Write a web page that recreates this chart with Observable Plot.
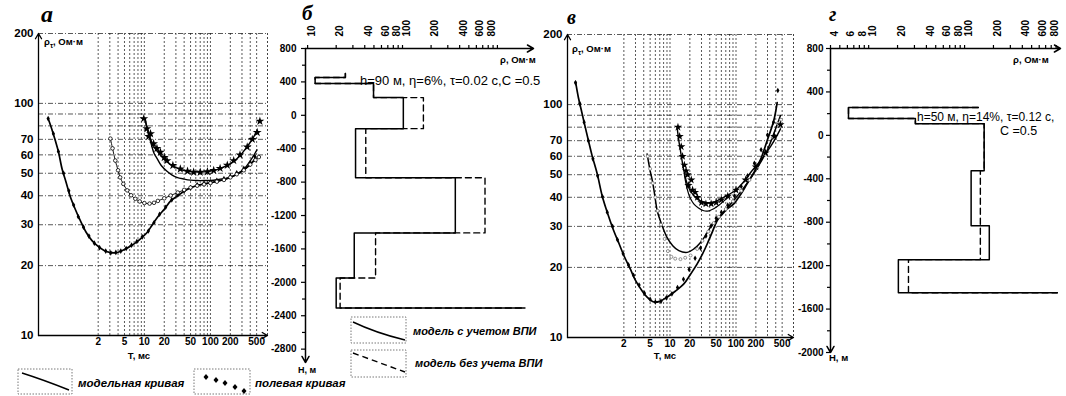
<!DOCTYPE html>
<html><head><meta charset="utf-8">
<script src="https://cdn.jsdelivr.net/npm/d3@7"></script>
<script src="https://cdn.jsdelivr.net/npm/@observablehq/plot@0.6"></script>
<style>
body{margin:0;background:#fff;}
#root{position:relative;width:1066px;height:396px;overflow:hidden;font-family:"Liberation Sans",Arial,sans-serif;color:#000;background:#fff;}
#root svg{position:absolute;top:0;}
</style></head><body><div id="root"></div>
<script>
// ---------------- shared axes for curve panels (а, в) ----------------
const rhoTicks = [10,20,30,40,50,60,70,80,90,100,200];
const rhoGrid = [20,30,40,50,60,70,80,90,100,200];
const tTicks = [2,5,10,20,50,100,200,500];
const tGrid = [2,3,4,5,6,7,8,9,10,20,30,40,50,60,70,80,90,100,200,300,400,500];
const aDomainT = [0.25, 730];
const vDomainT = [0.28, 743];
const rhoDomain = [10, 200];

// ---------------- panel а ----------------
const aT1 = [0.35,0.4,0.45,0.5,0.57,0.65,0.76,0.9,1.07,1.3,1.6,2.0,2.5,3.0,3.6,4.3,5.2,6.2,7.5,9,11,13,16,20,25,32,40,50,63,80,100,125,160,200,250,320,400,480];
const aRho1 = [86,77,69,62,52,46,39.5,35,31.3,28,25.7,24.2,23.2,22.8,22.7,23,23.6,24.3,25.2,26.3,27.8,29.8,32.5,35,38,40,41.8,43.2,44.3,45,45.5,46.2,47,48,49.5,51.8,54.5,58];
const aT1f = [0.35,0.42,0.5,0.6,0.72,0.85,1.0,1.2,1.45,1.75,2.1,2.6,3.1,3.7,4.4,5.3,6.4,7.7,9.3,11.5,14,17,21,26,32,40,50,63,80,100,125,160,200,250,320,400,470];
const aRho1f = [86,74,62,50,42,36.5,32.5,29.3,26.8,25,23.9,23.1,22.7,22.8,23.1,23.7,24.5,25.4,26.6,28.2,30.6,33.3,35.7,38.4,40.3,41.9,43.3,44.6,45.3,45.9,46.6,47.4,48.5,50.2,52.5,55.6,59];
const aT2 = [3.06,3.3,3.63,4.0,4.3,4.8,5.5,6.3,7.3,8.5,10,12,14,16,20,25,32,40,50,63,80,100,125,160,200,250,320,400,480,540];
const aRho2 = [70.5,64,56.7,51.5,48,45,42.2,40.2,38.8,37.8,37.2,37,37.3,38,39,40.1,41.3,42.4,43.4,44.2,44.8,45.4,46,46.8,48,49.5,51.5,54.5,57,58.7];
const aT3f = [9.8,10.9,11.6,12.4,13.8,15.5,17.5,20,22,27,35,45,55.7,70,90,112,140,180,225,280,360,430,510,560];
const aRho3f = [86,77.8,72,74,67,64,61.6,58.5,56.7,54,52.2,51,50.5,50.5,50.8,51.4,52.5,54.2,56.7,60,64.9,70,75,83.8];
const aT3 = [10.3,12,14,17,20,25,32,40,50,63,80,100,130,170,220,280,350,430,500];
const aRho3 = [84,72,65,60.5,57.5,54.5,52.5,51.4,50.8,50.6,50.7,51.1,52,53.6,56,59.5,64.5,70,76];
const aT3b = [10.3,11,12.5,14,15.6,18,22,26,31,40,50,63,80,100,126,160,200,253,320,400,506];
const aRho3b = [86,78,68,61,57.8,54,51,49.2,48,47.2,46.7,46.5,46.5,46.6,46.9,47.4,48,49.5,52,56.5,63];

// ---------------- panel в ----------------
const vT1 = [0.37,0.41,0.46,0.52,0.59,0.66,0.79,0.94,1.1,1.4,1.7,2.0,2.5,3.0,3.7,4.5,5.7,7,9,12,16.2,20,25.8,31,36.6,44,51.9,60,72,92.6,120,147,190,235,296,372,420];
const vRho1 = [125.7,107,93,80,68.8,60.4,50.4,40.5,35,28.8,25.2,22.5,19.7,17.6,16,14.9,14.2,14.3,14.9,15.8,17,18.5,20.7,22.8,25.2,28.5,31.8,33.5,35.5,37.5,41.5,45.7,51.5,58,70,85,102];
const vT1f = [0.37,0.43,0.5,0.58,0.68,0.8,0.95,1.12,1.35,1.6,1.95,2.35,2.8,3.4,4.1,5,6,7.3,8.8,10.7,13,16,19.5,24,29,35,42,50,60,75,95,120,150,190,240,300,370,430];
const vRho1f = [124,101,84,70,58.5,49.5,40.2,34.5,30,26.3,22.9,20.5,18.5,16.8,15.5,14.6,14.2,14.3,14.8,15.4,16.4,17.8,19.6,21.9,24.2,27.3,30.2,32.5,34.5,37,40.5,44.5,49.5,56,64,74,84,115];
const vT2 = [4.5,5.0,5.4,5.9,6.4,7.5,9,11,13.6,18.2,23,29,35,41,55,70,90,120,160,210,296,380,472];
const vRho2 = [61.4,52,47.2,40.5,35,30.5,26.9,24.8,23.6,23.2,24,25.6,27.6,29.7,32.8,35.5,38.5,42.5,47.5,53.5,63.5,76,89.7];
const vT2f = [4.6,5,5.5,6,6.5,7.3,8.3,9.3,10.5,12,14.4,17,20.5,25.8,31,38,46,55,70,90,120,160,210,280,360,430,480];
const vRho2f = [60,53,46,40,35,30.5,26.5,23.5,22.2,21.8,21.7,22,22.5,24,26,28.5,31,33,35.6,38.5,42.7,47.5,53.5,61,72,83,86];
const vT3 = [12.9,13.6,14.4,15.3,16.2,18.2,20,22.9,27,32.5,39,46,55,65,80,100,130,170,230,333,400,472];
const vRho3 = [78.7,70,63.5,57,52.1,45.7,43,40.7,39,38.1,37.9,38.1,39,40,41.3,43,46.5,51.5,57,66,72,78.7];
const vT3b = [16.5,18,20,22.9,27,32.5,39,46,55,65,80];
const vRho3b = [50,44,40,37.5,36,35,35,35.7,37,38.5,40.5];
const vT3f = [13.2,14,14.8,15.5,16.5,17.5,18.5,19,21,22,24,26,30,35,42,50,60,75,100,140,200,280,380,470];
const vRho3f = [80,73,66,60,55,52,50,45,47.5,43,42,40,38,37.5,37.5,38,39,40.5,43,47.5,54,62,73,82];

// ---------------- panel б (geoelectric section) ----------------
const bYMajor = [800,400,0,-400,-800,-1200,-1600,-2000,-2400,-2800];
const bYMinor = [600,200,-200,-600,-1000,-1400,-1800,-2200,-2600];
const bXLabels = [10,20,40,60,80,100,200,400,600,800];
const bXMinor = [30,50,70,90,300,500,700,900,1000];
const bSurfRho = 25, bSurfTop = 500;
const bBounds = [452,380,212,-160,-748,-1408,-1948,-2308];
const bRhoSolid = [12,49.5,102,32,360,31,20,1950];
const bRhoDashed = [12,49.5,166,41,740,52,22,1950];
const bDomainX = [9.5, 2400], bDomainY = [-2960, 800];

// ---------------- panel г ----------------
const gYMajor = [800,400,0,-400,-800,-1200,-1600,-2000];
const gYMinor = [600,200,-200,-600,-1000,-1400,-1800];
const gXLabels = [4,6,8,10,20,40,60,80,100,200,400,600,800];
const gXMinor = [5,7,9,30,50,70,90,300,500,700,900];
const gSurfRho = 139, gSurfTop = 256;
const gBounds = [256,155,108,-325,-832,-1145,-1450];
const gRhoSolid = [6.16,30.7,160,117,181,20.4,926];
const gRhoDashed = [6.16,30.7,160,146,146,26,926];
const gDomainX = [4, 1000], gDomainY = [-2000, 800];

// ---------------- helpers ----------------
const zipTR = (T, R) => T.map((t, i) => ({T: t, rho: R[i]}));
const fmt = d => String(d);
const FONT = "Liberation Sans, Arial, sans-serif";
const root = document.getElementById("root");

function curvePanel({left, width, mL, mR, mT, mB, xDomain, lines, dots}) {
  const svg = Plot.plot({
    width, height: 396, marginLeft: mL, marginRight: mR, marginTop: mT, marginBottom: mB,
    x: {type: "log", domain: xDomain, axis: null},
    y: {type: "log", domain: rhoDomain},
    style: {background: "transparent", overflow: "visible", fontFamily: FONT, color: "black"},
    marks: [
      Plot.ruleY(rhoGrid, {stroke: "#111", strokeWidth: 0.7, strokeDasharray: "5,2,1,2"}),
      Plot.ruleX(tGrid, {stroke: "#111", strokeWidth: 0.7, strokeDasharray: "2,2"}),
      Plot.ruleX([xDomain[1]], {stroke: "#111", strokeWidth: 0.8, strokeDasharray: "2,2"}),
      Plot.axisY(rhoTicks, {anchor: "left", tickSize: 0, tickPadding: 5, label: null, tickFormat: fmt, fontSize: 11.5, fontWeight: "bold"}),
      Plot.text(tTicks, {x: d => d, text: fmt, frameAnchor: "bottom", dy: 9, fontSize: 10, fontWeight: "bold"}),
      Plot.arrow([{x1: xDomain[0], y1: rhoDomain[0], x2: xDomain[0], y2: rhoDomain[1]}], {x1: "x1", y1: "y1", x2: "x2", y2: "y2", stroke: "black", strokeWidth: 1.3, headLength: 7}),
      Plot.arrow([{x1: xDomain[0], y1: rhoDomain[0], x2: xDomain[1], y2: rhoDomain[0]}], {x1: "x1", y1: "y1", x2: "x2", y2: "y2", stroke: "black", strokeWidth: 1.3, headLength: 7}),
      ...lines.map(l => Plot.line(l.data, {x: "T", y: "rho", curve: "catmull-rom", stroke: l.color || "black", strokeWidth: l.w})),
      ...dots.map(d => Plot.dot(d.data, {x: "T", y: "rho", symbol: d.symbol, r: d.r, fill: d.fill, stroke: d.stroke || "none", strokeWidth: 0.8}))
    ]
  });
  svg.style.left = left + "px";
  root.appendChild(svg);
}

function stepPath(surfRho, surfTop, bounds, rhos) {
  const pts = [{rho: surfRho, H: surfTop}, {rho: surfRho, H: bounds[0]}];
  for (let i = 0; i < rhos.length; i++) {
    pts.push({rho: rhos[i], H: bounds[i]});
    if (i + 1 < bounds.length) pts.push({rho: rhos[i], H: bounds[i + 1]});
  }
  return pts;
}

function sectionPanel({left, width, mL, mR, mT, mB, xDomain, yDomain, yMajor, yMinor, xLabels, xMinor, solid, dashed, yPad}) {
  const svg = Plot.plot({
    width, height: 396, marginLeft: mL, marginRight: mR, marginTop: mT, marginBottom: mB,
    x: {type: "log", domain: xDomain},
    y: {domain: yDomain},
    style: {background: "transparent", overflow: "visible", fontFamily: FONT, color: "black"},
    marks: [
      Plot.axisY(yMajor, {anchor: "left", tickSize: 4, tickPadding: yPad, label: null, tickFormat: fmt, fontSize: 10, fontWeight: "bold", strokeWidth: 1.2}),
      Plot.axisY(yMinor, {anchor: "left", tickSize: 3, fill: "none", label: null, strokeWidth: 1.2}),
      Plot.axisX(xLabels.concat(xMinor), {anchor: "top", tickSize: 4, fill: "none", label: null, strokeWidth: 1.2}),
      Plot.text(xLabels, {x: d => d, text: fmt, frameAnchor: "top", dy: -12, rotate: -90, textAnchor: "start", fontSize: 10, fontWeight: "bold"}),
      Plot.arrow([{x1: xDomain[0], y1: yDomain[1], x2: xDomain[0], y2: yDomain[0]}], {x1: "x1", y1: "y1", x2: "x2", y2: "y2", stroke: "black", strokeWidth: 1.5, headLength: 7}),
      Plot.arrow([{x1: xDomain[0], y1: yDomain[1], x2: xDomain[1], y2: yDomain[1]}], {x1: "x1", y1: "y1", x2: "x2", y2: "y2", stroke: "black", strokeWidth: 1.5, headLength: 7}),
      Plot.line(dashed, {x: "rho", y: "H", stroke: "black", strokeWidth: 1.4, strokeDasharray: "6,4"}),
      Plot.line(solid, {x: "rho", y: "H", stroke: "black", strokeWidth: 1.5})
    ]
  });
  svg.style.left = left + "px";
  root.appendChild(svg);
}

// ---------------- draw panels ----------------
curvePanel({
  left: 0, width: 275, mL: 38, mR: 8, mT: 33, mB: 61, xDomain: aDomainT,
  lines: [
    {data: zipTR(aT1, aRho1), w: 1.7},
    {data: zipTR(aT2, aRho2), w: 0.9},
    {data: zipTR(aT3b, aRho3b), w: 1.4},
    {data: zipTR(aT3, aRho3), w: 1.4}
  ],
  dots: [
    {data: zipTR(aT1f, aRho1f), symbol: "diamond", r: 1.7, fill: "black"},
    {data: zipTR(aT2, aRho2), symbol: "circle", r: 1.8, fill: "white", stroke: "black"},
    {data: zipTR(aT3f, aRho3f), symbol: "star", r: 2.8, fill: "black"}
  ]
});
curvePanel({
  left: 525, width: 275, mL: 42, mR: 7, mT: 34, mB: 59, xDomain: vDomainT,
  lines: [
    {data: zipTR(vT1, vRho1), w: 1.7},
    {data: zipTR(vT2, vRho2), w: 1.5},
    {data: zipTR(vT3b, vRho3b), w: 1.2},
    {data: zipTR(vT3, vRho3), w: 1.4}
  ],
  dots: [
    {data: zipTR(vT1f, vRho1f), symbol: "diamond", r: 1.7, fill: "black"},
    {data: zipTR(vT2f, vRho2f), symbol: "circle", r: 1.5, fill: "white", stroke: "#777"},
    {data: zipTR(vT3f, vRho3f), symbol: "star", r: 2.6, fill: "black"}
  ]
});
sectionPanel({
  left: 262, width: 280, mL: 43, mR: 9, mT: 48, mB: 34, xDomain: bDomainX, yDomain: bDomainY,
  yMajor: bYMajor, yMinor: bYMinor, xLabels: bXLabels, xMinor: bXMinor, yPad: 5,
  solid: stepPath(bSurfRho, bSurfTop, bBounds, bRhoSolid),
  dashed: stepPath(bSurfRho, bSurfTop, bBounds, bRhoDashed)
});
sectionPanel({
  left: 785, width: 281, mL: 45, mR: 6, mT: 48, mB: 44, xDomain: gDomainX, yDomain: gDomainY,
  yMajor: gYMajor, yMinor: gYMinor, xLabels: gXLabels, xMinor: gXMinor, yPad: 3,
  solid: stepPath(gSurfRho, gSurfTop, gBounds, gRhoSolid),
  dashed: stepPath(gSurfRho, gSurfTop, gBounds, gRhoDashed)
});

// ---------------- annotations & legends ----------------
const ov = d3.select(root).append("svg").attr("width", 1066).attr("height", 396)
  .style("left", "0px").style("pointer-events", "none").attr("font-family", FONT);

function txt(x, y, s, size, opts = {}) {
  const t = ov.append("text").attr("x", x).attr("y", y).attr("font-size", size)
    .attr("font-weight", opts.weight || "bold").attr("font-style", opts.style || "normal")
    .attr("text-anchor", opts.anchor || "start").text(s);
  if (opts.family) t.attr("font-family", opts.family);
  if (opts.spacing) t.attr("letter-spacing", opts.spacing);
  return t;
}
const SERIF = "Liberation Serif, Times New Roman, serif";
txt(41, 22, "а", 24, {style: "italic", family: SERIF});
txt(302, 20, "б", 21, {style: "italic", family: SERIF});
txt(567, 24, "в", 20, {style: "italic", family: SERIF});
txt(829, 21, "г", 20, {style: "italic", family: SERIF});

function rhoTauLabel(x, y) {
  const t = ov.append("text").attr("x", x).attr("y", y).attr("font-size", 9.5).attr("font-weight", "bold");
  t.append("tspan").text("ρ");
  t.append("tspan").attr("font-size", 7).attr("dy", 2.5).text("τ");
  t.append("tspan").attr("dy", -2.5).text(", Ом·м");
}
rhoTauLabel(44, 45);
rhoTauLabel(572, 52);
txt(139, 359, "Т, мс", 9.5, {anchor: "middle"});
txt(665, 359, "Т, мс", 9.5, {anchor: "middle"});

txt(360, 85, "h=90 м, η=6%, τ=0.02 с,С =0.5", 13, {weight: "normal"});
txt(500, 63, "ρ, Ом·м", 9.5);
txt(298, 373, "Н, м", 9);
txt(917, 121, "h=50 м, η=14%, τ=0.12 с,", 12, {weight: "normal"});
txt(1000, 135, "С =0.5", 12.5, {weight: "normal"});
txt(1013, 63, "ρ, Ом·м", 9.5);
txt(829, 361, "Н, м", 9.5);

function box(x, y, w, h) {
  ov.append("rect").attr("x", x).attr("y", y).attr("width", w).attr("height", h)
    .attr("fill", "none").attr("stroke", "#555").attr("stroke-width", 0.8).attr("stroke-dasharray", "1.5,1.5");
}
// legend а
box(18, 369, 54, 25);
ov.append("path").attr("d", "M22,373 Q44,380 69,390").attr("fill", "none").attr("stroke", "black").attr("stroke-width", 1.4);
txt(78, 387, "модельная кривая", 11.5, {style: "italic"});
box(194, 369, 56, 25);
const diamondPts = [[206,377],[216,380],[225,383],[235,387],[244,391]];
ov.selectAll("path.dm").data(diamondPts).join("path").attr("class", "dm")
  .attr("d", d => `M${d[0]},${d[1]-3}L${d[0]+2.5},${d[1]}L${d[0]},${d[1]+3}L${d[0]-2.5},${d[1]}Z`).attr("fill", "black");
txt(255, 387, "полевая кривая", 11.5, {style: "italic"});
// legend б
box(351, 317, 55, 26);
ov.append("path").attr("d", "M353,322 Q376,333 405,340").attr("fill", "none").attr("stroke", "black").attr("stroke-width", 1.4);
txt(413, 335, "модель с учетом  ВПИ", 11, {style: "italic"});
box(351, 350, 55, 27);
ov.append("path").attr("d", "M353,353 L405,372").attr("fill", "none").attr("stroke", "black").attr("stroke-width", 1.4).attr("stroke-dasharray", "6,4");
txt(415, 367, "модель без учета ВПИ", 11, {style: "italic"});
</script></body></html>
